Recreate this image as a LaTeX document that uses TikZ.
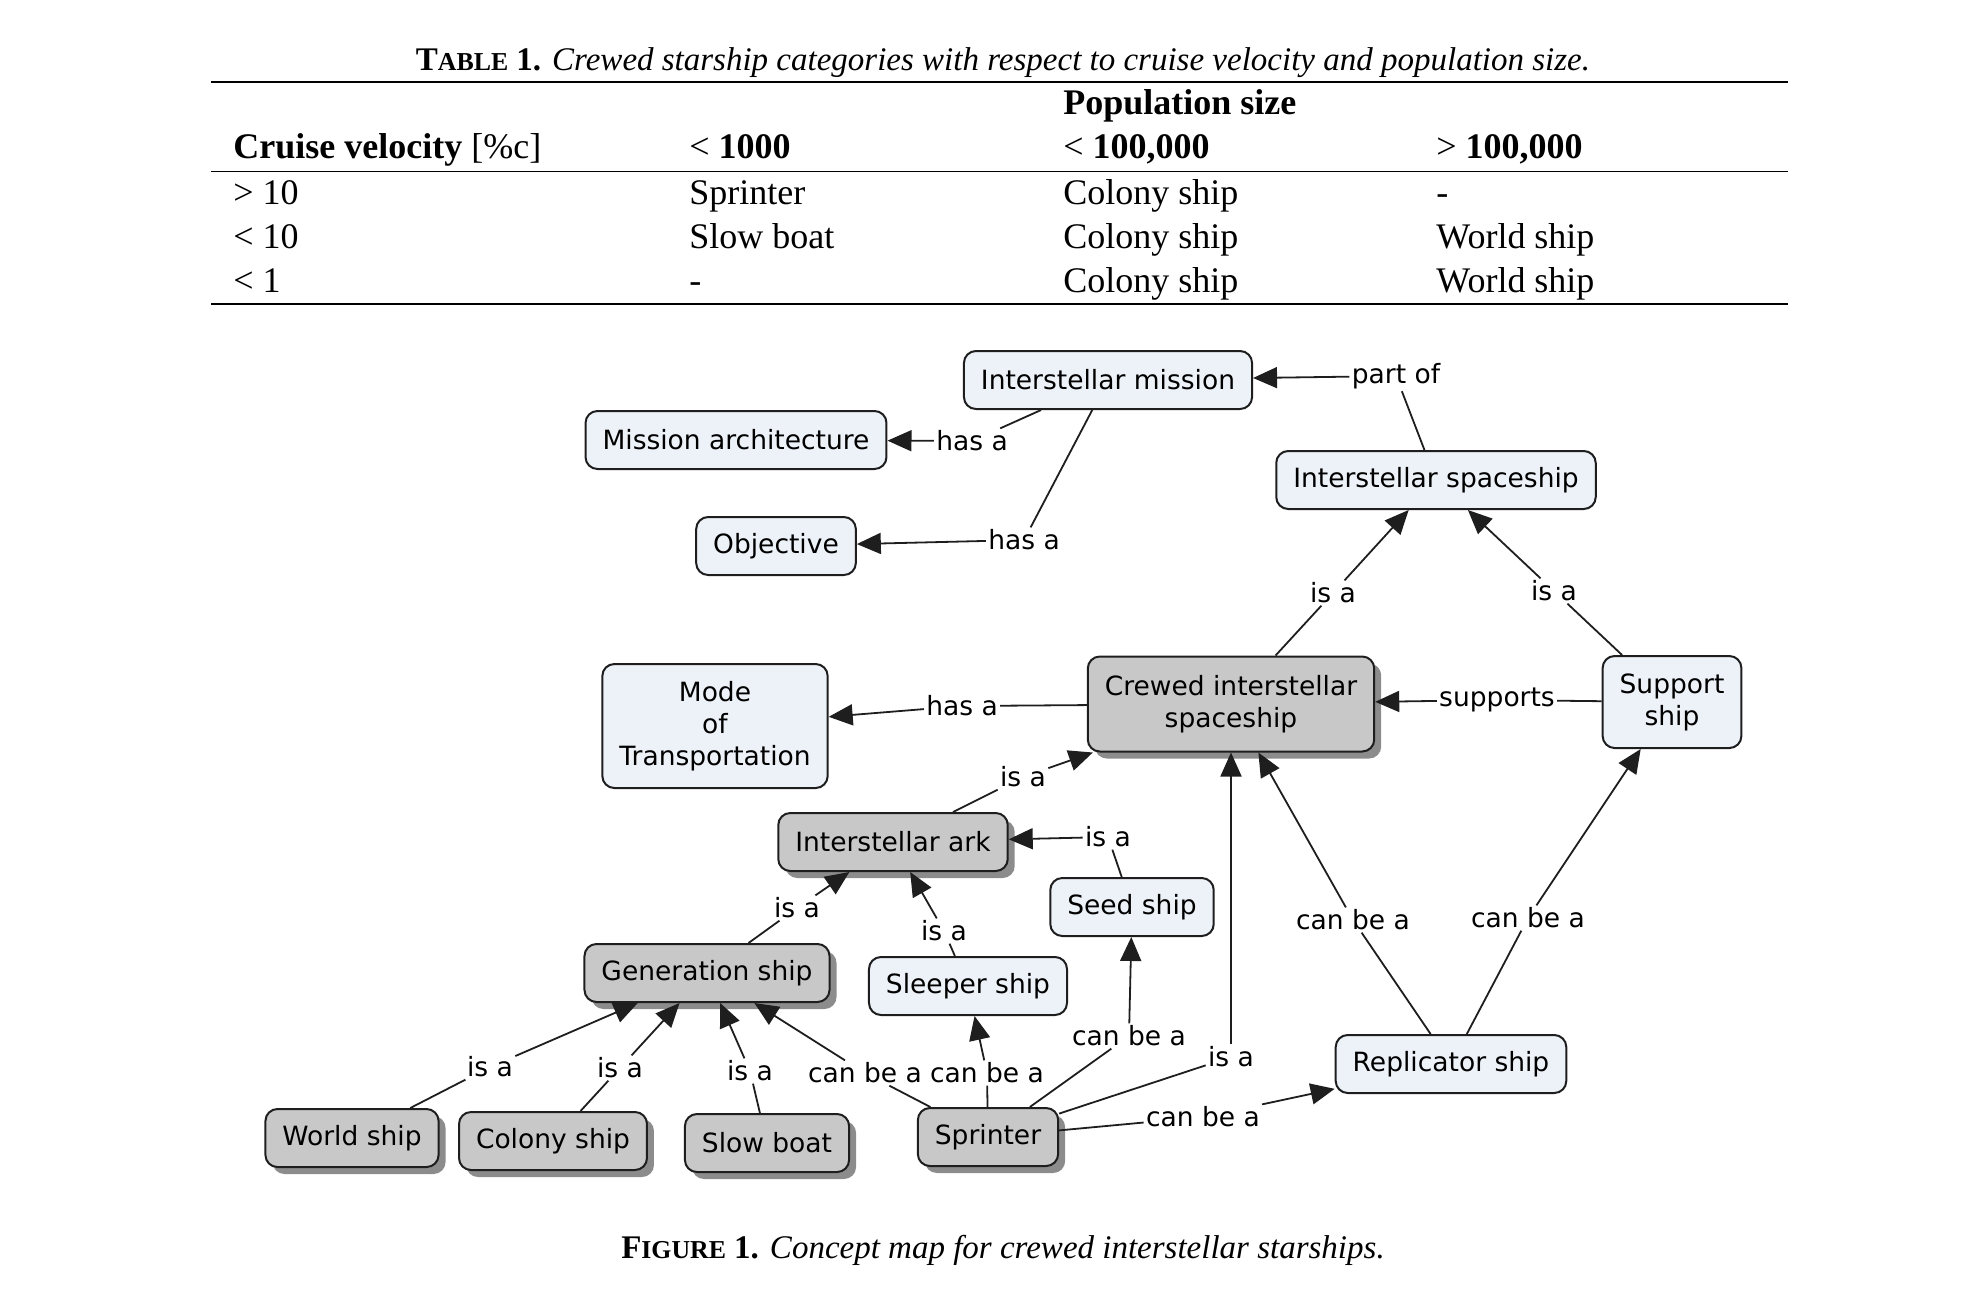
\documentclass[tikz,border=0pt]{standalone}
\usepackage{fontspec}
\setmainfont{Liberation Serif}
\newfontfamily\mapfont{DejaVu Sans}
\usepackage{tikz}
\usetikzlibrary{arrows.meta,shadows}
\definecolor{conceptfill}{RGB}{237,242,248}
\definecolor{arkgray}{RGB}{200,200,200}
\definecolor{shadowgray}{RGB}{140,140,140}
\definecolor{edgeblack}{RGB}{30,30,30}

\begin{document}
\begin{tikzpicture}[x=0.5pt,y=-0.5pt,
 concept/.style={draw=edgeblack,line width=1pt,rounded corners=6pt,fill=conceptfill,
                 align=center,inner xsep=8.5pt,inner ysep=4pt,minimum height=29pt,
                 font=\mapfont\fontsize{13.25}{16}\selectfont},
 grayconcept/.style={concept,fill=arkgray,
                 drop shadow={shadow xshift=3.5pt,shadow yshift=-3.5pt,fill=shadowgray,opacity=1}},
 rel/.style={inner sep=1pt,font=\mapfont\fontsize{13.25}{16}\selectfont},
 link/.style={line width=0.9pt,draw=edgeblack},
 arrow/.style={link,-{Triangle[length=12pt,width=10.5pt]}},
 cell/.style={anchor=base west,inner sep=0pt,font=\fontsize{18}{21.6}\selectfont},
 caption/.style={anchor=base,inner sep=0pt,font=\fontsize{16.5}{19.5}\selectfont}]
 \useasboundingbox (0,0) rectangle (1977,1292);
 % table
 \node (tabcap) [caption] at (1003,70)
   {\textbf{T{\fontsize{12.9}{15}\selectfont ABLE} 1.} \textit{Crewed starship categories with respect to cruise velocity and population size.}};
 \draw[line width=1.2pt] (211,82) -- (1788,82);
 \node (popsize) [cell] at (1063,114) {\textbf{Population size}};
 \node (velhead) [cell] at (233,158) {\textbf{Cruise velocity} [\%c]};
 \node (popa) [cell] at (689,158) {< \textbf{1000}};
 \node (popb) [cell] at (1063,158) {< \textbf{100,000}};
 \node (popc) [cell] at (1436,158) {> \textbf{100,000}};
 \draw[line width=0.8pt] (211,171.5) -- (1788,171.5);
 \node (vela) [cell] at (233,204) {> 10};
 \node (velb) [cell] at (233,248) {< 10};
 \node (velc) [cell] at (233,292) {< 1};
 \node (aa) [cell] at (689,204) {Sprinter};
 \node (ba) [cell] at (689,248) {Slow boat};
 \node (ca) [cell] at (689,292) {-};
 \node (ab) [cell] at (1063,204) {Colony ship};
 \node (bb) [cell] at (1063,248) {Colony ship};
 \node (cb) [cell] at (1063,292) {Colony ship};
 \node (ac) [cell] at (1436,204) {-};
 \node (bc) [cell] at (1436,248) {World ship};
 \node (cc) [cell] at (1436,292) {World ship};
 \draw[line width=1.2pt] (211,304) -- (1788,304);
 % concept map
 \node (mission) [concept] at (1108,380) {Interstellar mission};
 \node (arch) [concept] at (736,440) {Mission architecture};
 \node (objective) [concept] at (776,546) {Objective};
 \node (spaceship) [concept] at (1436,480) {Interstellar spaceship};
 \node (mode) [concept,minimum height=62pt] at (715,726) {Mode\\of\\Transportation};
 \node (crewed) [grayconcept,minimum height=47.5pt] at (1231,704) {Crewed interstellar\\spaceship};
 \node (support) [concept,minimum height=46pt] at (1672,702) {Support\\ship};
 \node (ark) [grayconcept] at (893,842) {Interstellar ark};
 \node (seed) [concept] at (1132,907) {Seed ship};
 \node (generation) [grayconcept] at (707,973) {Generation ship};
 \node (sleeper) [concept] at (968,986) {Sleeper ship};
 \node (replicator) [concept] at (1451,1064) {Replicator ship};
 \node (world) [grayconcept] at (352,1138) {World ship};
 \node (colony) [grayconcept] at (553,1141) {Colony ship};
 \node (slowboat) [grayconcept] at (767,1143) {Slow boat};
 \node (sprinter) [grayconcept] at (988,1137) {Sprinter};
 % linking phrases
 \node (partof) [rel] at (1396,376) {part of};
 \node (hasarch) [rel] at (972,441) {has a};
 \node (hasobj) [rel] at (1024,540) {has a};
 \node (crewisa) [rel] at (1333,593) {is a};
 \node (supisa) [rel] at (1554,591) {is a};
 \node (supports) [rel] at (1497,700) {supports};
 \node (hasmode) [rel] at (962,706) {has a};
 \node (arkisa) [rel] at (1023,777) {is a};
 \node (seedisa) [rel] at (1108,837) {is a};
 \node (genisa) [rel] at (797,908) {is a};
 \node (sleepisa) [rel] at (944,931) {is a};
 \node (worldisa) [rel] at (490,1067) {is a};
 \node (colonyisa) [rel] at (620,1068) {is a};
 \node (slowisa) [rel] at (750,1071) {is a};
 \node (sprgen) [rel] at (865,1073) {can be a};
 \node (sprsleep) [rel] at (987,1073) {can be a};
 \node (sprseed) [rel] at (1129,1036) {can be a};
 \node (sprisa) [rel] at (1231,1057) {is a};
 \node (sprrep) [rel] at (1203,1117) {can be a};
 \node (repcrew) [rel] at (1353,920) {can be a};
 \node (repsup) [rel] at (1528,918) {can be a};
 \draw[link] (spaceship)--(partof); \draw[arrow] (partof)--(mission);
 \draw[link] (mission)--(hasarch); \draw[arrow] (hasarch)--(arch);
 \draw[link] (mission)--(hasobj); \draw[arrow] (hasobj)--(objective);
 \draw[link] (crewed)--(crewisa); \draw[arrow] (crewisa)--(spaceship);
 \draw[link] (support)--(supisa); \draw[arrow] (supisa)--(spaceship);
 \draw[link] (support)--(supports); \draw[arrow] (supports)--(crewed);
 \draw[link] (crewed)--(hasmode); \draw[arrow] (hasmode)--(mode);
 \draw[link] (ark)--(arkisa); \draw[arrow] (arkisa)--(crewed);
 \draw[link] (seed)--(seedisa); \draw[arrow] (seedisa)--(ark);
 \draw[link] (generation)--(genisa); \draw[arrow] (genisa)--(ark);
 \draw[link] (sleeper)--(sleepisa); \draw[arrow] (sleepisa)--(ark);
 \draw[link] (world)--(worldisa); \draw[arrow] (worldisa)--(generation);
 \draw[link] (colony)--(colonyisa); \draw[arrow] (colonyisa)--(generation);
 \draw[link] (slowboat)--(slowisa); \draw[arrow] (slowisa)--(generation);
 \draw[link] (sprinter)--(sprgen); \draw[arrow] (sprgen)--(generation);
 \draw[link] (sprinter)--(sprsleep); \draw[arrow] (sprsleep)--(sleeper);
 \draw[link] (sprinter)--(sprseed); \draw[arrow] (sprseed)--(seed);
 \draw[link] (sprinter)--(sprisa); \draw[arrow] (sprisa)--(crewed);
 \draw[link] (sprinter)--(sprrep); \draw[arrow] (sprrep)--(replicator);
 \draw[link] (replicator)--(repcrew); \draw[arrow] (repcrew)--(crewed);
 \draw[link] (replicator)--(repsup); \draw[arrow] (repsup)--(support);
 \node (figcap) [caption] at (1003,1258)
   {\textbf{F{\fontsize{12.9}{15}\selectfont IGURE} 1.} \textit{Concept map for crewed interstellar starships.}};
\end{tikzpicture}
\end{document}
